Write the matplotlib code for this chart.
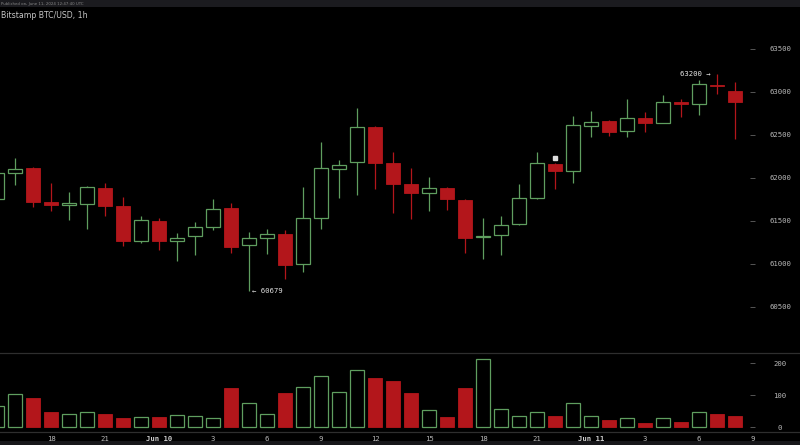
import matplotlib
matplotlib.use("Agg")
import matplotlib.pyplot as plt
from matplotlib.lines import Line2D
from matplotlib.patches import Rectangle
import numpy as np

# hourly candles, Jun 9 15:00 -> Jun 11 08:00 (BTC/USD, Bitstamp)
opens = [61750, 62052, 62111, 61715, 61680, 61692, 61878, 61669, 61262, 61494,
         61262, 61320, 61424, 61645, 61215, 61297, 61343, 60994, 61529, 62099,
         62180, 62587, 62169, 61924, 61820, 61878, 61738, 61308, 61331, 61459,
         61762, 62157, 62076, 62599, 62657, 62541, 62692, 62634, 62878, 62855,
         63076, 63006]
highs = [62087, 62227, 62122, 61936, 61831, 61901, 61936, 61773, 61552, 61529,
         61355, 61483, 61750, 61703, 61366, 61401, 61390, 61890, 62413, 62203,
         62808, 62599, 62297, 62111, 62006, 61890, 61750, 61529, 61552, 61924,
         62297, 62165, 62715, 62773, 62665, 62913, 62762, 62959, 62913, 63134,
         63200, 63110]
lows = [61738, 61913, 61657, 61610, 61506, 61401, 61552, 61203, 61238, 61157,
        61029, 61099, 61390, 61122, 60679, 61110, 60820, 60901, 61401, 61762,
        61797, 61866, 61587, 61517, 61610, 61622, 61122, 61052, 61099, 61450,
        61755, 61866, 61936, 62471, 62482, 62471, 62529, 62630, 62703, 62727,
        62971, 62448]
closes = [62052, 62099, 61715, 61680, 61703, 61890, 61669, 61262, 61506, 61262,
          61297, 61424, 61634, 61192, 61297, 61343, 60983, 61529, 62111, 62145,
          62587, 62169, 61924, 61820, 61878, 61750, 61297, 61320, 61448, 61762,
          62169, 62076, 62610, 62645, 62529, 62692, 62634, 62878, 62855, 63087,
          63064, 62878]
volumes = [66, 102, 92, 46, 40, 46, 40, 29, 30, 31,
           37, 33, 27, 123, 76, 42, 105, 126, 159, 110,
           178, 154, 144, 105, 52, 32, 123, 212, 56, 34,
           46, 34, 76, 34, 21, 27, 13, 27, 17, 48,
           42, 34]
x_tick_pos = [3, 6, 9, 12, 15, 18, 21, 24, 27, 30, 33, 36, 39, 42]
x_tick_labels = ["18", "21", "Jun 10", "3", "6", "9", "12", "15", "18", "21",
                 "Jun 11", "3", "6", "9"]
price_ticks = [60500, 61000, 61500, 62000, 62500, 63000, 63500]
volume_ticks = [0, 100, 200]
title = "Bitstamp BTC/USD, 1h"
published = "Published on, June 11, 2024 12:47:40 UTC"
low_label = "← 60679"
high_label = "63200 →"
marker_idx, marker_price = 31, 62227

GREEN = "#5f9e5f"
RED = "#b3161b"
TXT = "#b8b8b8"
BG = "#000000"
MONO = "DejaVu Sans Mono"

W, H = 800, 445
fig = plt.figure(figsize=(W / 100, H / 100), dpi=100, facecolor=BG)

def fx(p):
    return p / W

def fy(p):
    return 1 - p / H

R = 755
axp = fig.add_axes([0, fy(350), fx(R), fy(8) - fy(350)], facecolor=BG)
axv = fig.add_axes([0, fy(432), fx(R), fy(353) - fy(432)], facecolor=BG, sharex=axp)

n = len(opens)
idx = np.arange(n)
o = np.array(opens); c = np.array(closes); hi = np.array(highs); lo = np.array(lows)
up = c >= o
cols = np.where(up, GREEN, RED)

# wicks
axp.vlines(idx, lo, hi, colors=cols, linewidth=0.9, zorder=1)
# bodies
bottoms = np.minimum(o, c)
heights = np.maximum(np.abs(c - o), 9)
for i in range(n):
    if up[i]:
        axp.bar(idx[i], heights[i], bottom=bottoms[i], width=0.8, facecolor=BG,
                edgecolor=GREEN, linewidth=0.9, zorder=2)
    else:
        axp.bar(idx[i], heights[i], bottom=bottoms[i], width=0.8, facecolor=RED,
                edgecolor=RED, linewidth=0.6, zorder=2)

axp.text(14 + 0.15, lows[14], low_label, color="#e0e0e0", fontsize=5.2,
         family=MONO, ha="left", va="center")
axp.text(40 - 0.35, highs[40], high_label, color="#e8e8e8", fontsize=5.2,
         family=MONO, ha="right", va="center")
axp.plot([marker_idx], [marker_price], marker="s", markersize=2.2,
         color="#dddddd", linestyle="none", zorder=3)

# volumes
v = np.array(volumes)
for i in range(n):
    if up[i]:
        axv.bar(idx[i], v[i], width=0.82, facecolor=BG, edgecolor=GREEN,
                linewidth=0.9)
    else:
        axv.bar(idx[i], v[i], width=0.82, facecolor=RED, edgecolor=RED,
                linewidth=0.6)

xl = (0 + 3) / 18, (R + 3) / 18
axp.set_xlim(xl)
axp.set_ylim(63000 - (350 - 91.5) * 500 / 43, 63000 + (91.5 - 8) * 500 / 43)
axv.set_ylim((427 - 432) * 100 / 32, (427 - 353) * 100 / 32)

for ax in (axp, axv):
    for s in ax.spines.values():
        s.set_visible(False)
    ax.yaxis.tick_right()
    ax.tick_params(axis="y", direction="in", length=3.5, width=0.7,
                   color="#555555", labelcolor=TXT, labelsize=5.2, pad=18)
    for lab in ax.get_yticklabels():
        lab.set_family(MONO)

axp.set_yticks(price_ticks)
axp.set_yticklabels([str(t) for t in price_ticks], family=MONO, ha="center")
axv.set_yticks(volume_ticks)
axv.set_yticklabels([str(t) for t in volume_ticks], family=MONO, ha="center")

axp.tick_params(axis="x", bottom=False, labelbottom=False)
axv.set_xticks(x_tick_pos)
axv.set_xticklabels(x_tick_labels, family=MONO)
axv.tick_params(axis="x", length=0, labelcolor=TXT, labelsize=5.2, pad=3)
for lab in axv.get_xticklabels():
    if lab.get_text().startswith("Jun"):
        lab.set_fontweight("bold")
        lab.set_color("#d0d0d0")

# frame lines and strips
fig.add_artist(Line2D([0, 1], [fy(353), fy(353)], color="#2e2e2e", linewidth=0.9,
                      transform=fig.transFigure))
fig.add_artist(Line2D([0, 1], [fy(432), fy(432)], color="#2e2e2e", linewidth=0.9,
                      transform=fig.transFigure))
fig.add_artist(Rectangle((0, fy(7)), 1, fy(0) - fy(7), transform=fig.transFigure,
                         facecolor="#1b1b1f", edgecolor="none", zorder=0))
fig.add_artist(Rectangle((0, 0), 1, fy(441), transform=fig.transFigure,
                         facecolor="#17171a", edgecolor="none", zorder=0))
fig.text(fx(1), fy(3.5), published, color="#888888", fontsize=2.8, va="center",
         ha="left")
fig.text(fx(1), fy(16), title, color="#c8c8c8", fontsize=5.6, va="center",
         ha="left")

fig.savefig("out.png", dpi=100, facecolor=BG)
